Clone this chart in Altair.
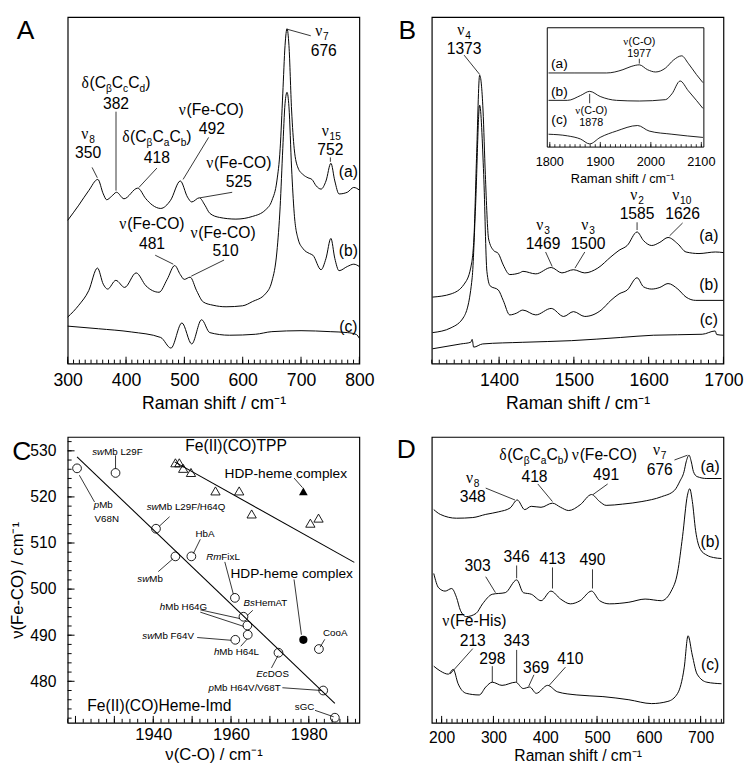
import altair as alt
import pandas as pd

FONT = "Liberation Sans"
SERIF = "Liberation Serif"

# ---------------- Panel A (300-800 cm-1) ----------------
A_a_x = [300, 319, 336, 351.6, 361, 366.8, 375, 383.7, 396.5, 420, 434, 445.3, 459.4, 476.3, 493, 505.4, 512.6, 525.6, 535.2, 543.6, 560.4, 588.4, 616.5, 638.9, 650.2, 658.6, 664.2, 668.7, 672.6, 676, 679.3, 683.8, 688.3, 695, 703.5, 711.9, 718.6, 725.9, 734.3, 742.8, 751.2, 757.9, 765.2, 779.3, 790.4, 800]
A_a_y = [148, 163.7, 178.7, 190.3, 175.3, 169.3, 172.7, 177, 170.3, 181.3, 170.3, 163.7, 160.3, 168.7, 188.7, 172, 167, 171.3, 163.7, 155.3, 151, 149.3, 152, 158.7, 168.7, 188.7, 222, 278.7, 328.7, 346, 328.7, 262, 222, 202, 195.3, 192, 190.3, 183.7, 180.3, 188.7, 207, 188.7, 175.3, 177, 182, 179.3]
A_b_x = [300, 319, 336, 351, 361, 368.5, 382.5, 397.6, 417.3, 434.2, 456.6, 470.5, 483.5, 493, 499.8, 509.9, 521, 532.3, 549.2, 571.5, 599.7, 616.5, 638.9, 650.2, 658.6, 664.2, 668.7, 672.6, 676, 679.3, 683.8, 688.3, 695, 703.5, 714.6, 720.3, 734.3, 742.8, 751.2, 757.9, 765.2, 779.3, 790.4, 800]
A_b_y = [48, 60.3, 75.3, 98.7, 82, 77, 86, 78.7, 93.7, 80.3, 73.7, 87, 101.3, 92, 87, 89.3, 75.3, 63.7, 60.3, 58.7, 59.7, 64, 72, 85.3, 115.3, 162, 222, 268.7, 280.3, 265.3, 202, 155.3, 128.7, 118.7, 113.7, 112, 97, 108.7, 129.3, 108.7, 96, 100.3, 102.7, 100.3]
A_c_x = [300, 352.7, 408.9, 459.4, 477, 495.8, 512.6, 529.5, 543.6, 577.3, 622, 650, 700, 750, 780, 795, 800]
A_c_y = [38.7, 36, 32.7, 27, 16, 42, 20.3, 45.3, 32, 29.3, 30.3, 33, 34, 33, 32, 30, 26]
A_ticks = [300, 400, 500, 600, 700, 800]

# ---------------- Panel B (1310-1700 cm-1) ----------------
B_a_x = [1311, 1335.8, 1353.2, 1362, 1366.3, 1369.8, 1374, 1378.5, 1381.6, 1386, 1392.5, 1399, 1405.5, 1414.3, 1427.4, 1432, 1449, 1469.7, 1484, 1499.4, 1514.6, 1532, 1549.5, 1560.4, 1571.3, 1584.5, 1593.2, 1604.1, 1615, 1625.9, 1639, 1650, 1667.3, 1689.2, 1700]
B_a_y = [68.7, 72, 82, 98.7, 128.7, 212, 298, 262, 195.3, 128.7, 117, 113.7, 102, 92, 93.7, 95.3, 92.7, 99.3, 93.7, 97, 93.7, 98.7, 110.3, 117, 122, 136, 127, 122, 125.3, 130.3, 123.7, 115.3, 113.7, 115.3, 114.7]
B_b_x = [1311, 1335.8, 1353.2, 1364, 1368.5, 1374, 1379.4, 1383.7, 1388, 1399, 1405.5, 1414.3, 1423, 1431.7, 1449, 1469.7, 1486.3, 1499.4, 1514.6, 1536.5, 1549.5, 1560.4, 1571.3, 1584.5, 1593.2, 1604.1, 1615, 1625.9, 1639, 1650, 1663, 1700]
B_b_y = [32, 37, 48.7, 88.7, 162, 267, 195.3, 95.3, 80.3, 76, 65.3, 50.3, 52, 55.3, 50.3, 57, 48.7, 53.7, 48.7, 55.3, 65.3, 72, 76, 88.7, 79.3, 77, 78.7, 82.7, 77, 68.7, 65.3, 65.3]
B_c_x = [1311, 1348.8, 1362, 1364, 1366, 1378, 1431.7, 1497, 1562.6, 1606.2, 1671.6, 1689, 1691, 1700]
B_c_y = [15.3, 20.3, 22, 25, 17, 20.3, 22, 23.7, 27, 29.3, 30.3, 33.7, 30, 29.3]
B_ticks = [1400, 1500, 1600, 1700]

# inset of panel B (1795-2105 cm-1)
I_a_x = [1797.5, 1848, 1912.6, 1944.8, 1961, 1977.2, 1993.3, 2009.5, 2028.9, 2045, 2061.1, 2074, 2090.2, 2103.1]
I_a_y = [300.3, 300.3, 300.3, 303.7, 307, 308.7, 303.7, 301.3, 305.3, 313.7, 318, 310.3, 298.7, 290.3]
I_b_x = [1797.5, 1835.1, 1860.9, 1878.9, 1899.7, 1932, 1977.2, 2028.9, 2041.7, 2058, 2074, 2090.2, 2103.1]
I_b_y = [272, 272, 277, 281.3, 276, 272, 271.3, 272.7, 278.7, 292, 282, 272, 263.7]
I_c_x = [1797.5, 1835.1, 1860.9, 1878.9, 1899.7, 1932, 1973.9, 1996.6, 2041.7, 2103.1]
I_c_y = [237, 235.3, 232, 227, 233.7, 240.3, 246, 240.3, 237, 233.7]
I_ticks = [1800, 1900, 2000, 2100]

# ---------------- Panel C (correlation plot) ----------------
C_circ_name = ["pMb V68N", "swMb L29F", "swMb L29F/H64Q", "swMb", "HbA", "RmFixL", "BsHemAT", "hMb H64G", "hMb H64L", "swMb F64V", "EcDOS", "CooA", "pMb H64V/V68T", "sGC"]
C_circ_x = [1920.4, 1930.3, 1940.7, 1945.7, 1949.8, 1961.0, 1963.2, 1964.2, 1964.3, 1961.1, 1972.2, 1982.6, 1983.7, 1986.7]
C_circ_y = [526.2, 525.2, 513.1, 507.1, 507.1, 498.1, 494.0, 492.1, 490.1, 489.0, 486.2, 487.0, 478.0, 472.1]
C_tri_x = [1945.7, 1946.7, 1947.7, 1949.7, 1956.0, 1962.1, 1965.3, 1980.4, 1982.5]
C_tri_y = [527.4, 527.4, 526.2, 525.3, 521.3, 521.3, 516.3, 514.3, 515.4]
C_hdp_x = [1978.6, 1978.6]
C_hdp_y = [521.2, 489.0]
C_fit_imd_x = [1920.4, 1986.7]
C_fit_imd_y = [528.7, 475.2]
C_fit_tpp_x = [1945.5, 1991.7]
C_fit_tpp_y = [527.6, 505.8]
C_xticks = [1940, 1960, 1980]
C_yticks = [480, 490, 500, 510, 520, 530]

# ---------------- Panel D (180-745 cm-1) ----------------
D_a_x = [184.8, 197.4, 228.7, 260.1, 285.2, 310.3, 332.2, 346, 360.4, 373, 391.9, 413.9, 429.6, 445.3, 467.4, 489.4, 505, 517.6, 549, 586.6, 624.3, 649.4, 660, 668, 672, 677.6, 682, 686, 693.2, 712, 740.3]
D_a_y = [222.3, 217.3, 213.3, 214, 217.3, 220, 224, 232.3, 222.3, 225.7, 224.7, 229, 224.7, 221.3, 227.3, 238, 230.7, 226.7, 228, 230.7, 235.7, 242.3, 252, 262, 272, 279, 272, 262, 256.7, 254.7, 254.7]
D_b_x = [184.8, 194.2, 206.8, 219.3, 228.7, 236.2, 247.5, 266.4, 279, 297.8, 322.9, 345, 357.6, 373.2, 392, 410.9, 429.7, 448.5, 467.3, 489.4, 505, 523.8, 561.5, 592.8, 624.3, 643.1, 655.6, 665, 674.5, 678.9, 684, 690.2, 699.6, 712.2, 724.7, 740.3]
D_b_y = [155.7, 140.7, 137.3, 140, 130.7, 117.3, 110.7, 114, 124, 134, 135.7, 149, 135.7, 134, 127.3, 137.3, 129, 124, 127.3, 137.3, 127.3, 124, 125.7, 129, 127.3, 137.3, 157.3, 194, 237.3, 244, 230.7, 200.7, 180.7, 174.7, 172.3, 171.3]
D_c_x = [184.8, 197.4, 213, 222.4, 231.8, 247.5, 272.6, 285.2, 297.8, 316.6, 343, 357.5, 370, 382.7, 404.6, 423.5, 461.1, 511.3, 561.5, 605.4, 636.8, 655.6, 668.2, 675.7, 683.8, 693.2, 712, 740.3]
D_c_y = [59, 54, 50.7, 55.7, 40.7, 30.7, 29, 37.3, 42.3, 39, 42.3, 35.7, 37.3, 30.7, 39, 32.3, 29, 27.3, 24, 20, 22.3, 30.7, 57.3, 90.7, 70.7, 50.7, 42.3, 40.7]
D_ticks = [200, 300, 400, 500, 600, 700]

# ---------------- helpers ----------------
W = {'0': .556, '1': .556, '2': .556, '3': .556, '4': .556, '5': .556, '6': .556, '7': .556, '8': .556, '9': .556,
     '(': .333, ')': .333, '-': .333, ' ': .278, '/': .278, 'A': .667, 'B': .667, 'C': .722, 'D': .722, 'E': .667,
     'F': .611, 'G': .778, 'H': .722, 'I': .278, 'L': .556, 'M': .833, 'N': .722, 'O': .778, 'P': .667, 'Q': .778,
     'R': .722, 'S': .667, 'T': .611, 'V': .667, 'a': .556, 'b': .556, 'c': .5, 'd': .556, 'e': .556, 'f': .278,
     'h': .556, 'i': .222, 'l': .222, 'm': .833, 'n': .556, 'o': .556, 'p': .556, 's': .5, 't': .278, 'w': .722,
     'x': .5, 'ν': .5, 'δ': .5, 'β': .575}


def tw(s, fs):
    return sum(W.get(c, 0.556) for c in s) * fs


def mk_panel(xd, yd, w, h, xa, ya=None, xr=None):
    sc = dict(domain=xd, nice=False, zero=False)
    if xr:
        sc['range'] = xr
    span = (xr[1] - xr[0]) if xr else w
    return {'xs': alt.Scale(**sc), 'ys': alt.Scale(domain=yd, nice=False, zero=False),
            'xa': xa, 'ya': ya, 'w': w, 'h': h,
            'kx': (xd[1] - xd[0]) / span, 'ky': (yd[1] - yd[0]) / h}


def X(p, f='x'):
    return alt.X(f, type='quantitative', scale=p['xs'], axis=p['xa'])


def Y(p, f='y'):
    return alt.Y(f, type='quantitative', scale=p['ys'], axis=p['ya'])


def rich(rows, p, x, y, segs, fs, align='center'):
    if isinstance(segs, str):
        segs = [(segs, 'sans')]
    pieces, total = [], 0.0
    for t, st in segs:
        size = fs * 0.65 if st == 'sub' else fs
        pieces.append((t, st, size, total))
        total += tw(t, size)
    start = {'left': 0.0, 'center': -total / 2, 'right': -total}[align]
    for t, st, size, off in pieces:
        dy = 0.36 * fs + (0.25 * fs if st == 'sub' else 0.0)
        rows.append({'x': x + (start + off) * p['kx'], 'y': y - dy * p['ky'], 't': t, 'fs': size,
                     'st': 'sans' if st == 'sub' else st})


def text_layers(rows, p):
    df = pd.DataFrame(rows)
    out = []
    for st, font, style in [('sans', FONT, 'normal'), ('serif', SERIF, 'normal'), ('ital', FONT, 'italic')]:
        d = df[df.st == st]
        if len(d) == 0:
            continue
        out.append(alt.Chart(d).mark_text(align='left', baseline='alphabetic', font=font, fontStyle=style,
                                          color='black').encode(
            x=X(p), y=Y(p), text='t:N', size=alt.Size('fs:Q', scale=None)))
    return out


def curves(p, series, sw=1.0):
    df = pd.concat([pd.DataFrame({'x': xs, 'y': ys, 's': n}) for xs, ys, n in series])
    return alt.Chart(df).mark_line(color='black', strokeWidth=sw, interpolate='monotone').encode(
        x=X(p), y=Y(p), detail='s:N')


def leaders(p, segs):
    df = pd.DataFrame(segs, columns=['x', 'y', 'x2', 'y2'])
    return alt.Chart(df).mark_rule(color='black', strokeWidth=0.8).encode(
        x=X(p), y=Y(p), x2='x2:Q', y2='y2:Q')


def xticks(p, vals, length):
    df = pd.DataFrame({'x': vals})
    return alt.Chart(df).mark_rule(color='black', strokeWidth=1).encode(
        x=X(p), y=alt.value(p['h']), y2=alt.value(p['h'] - length))


def yticks(p, vals, length):
    df = pd.DataFrame({'y': vals})
    return alt.Chart(df).mark_rule(color='black', strokeWidth=1).encode(
        y=Y(p), x=alt.value(0), x2=alt.value(length))


def letter(t, dx, dy):
    return alt.Chart(pd.DataFrame({'t': [t]})).mark_text(
        font=FONT, fontSize=27, align='center', baseline='middle', color='black').encode(
        x=alt.value(dx), y=alt.value(dy), text='t:N')


def xaxis(vals, title, fs, lp, tp):
    return alt.Axis(values=vals, title=title, ticks=False, tickSize=0, domain=False, grid=False,
                    labelFlush=False, labelOverlap=False, labelFontSize=fs, titleFontSize=fs,
                    labelPadding=lp, titlePadding=tp, format='d', labelFont=FONT, titleFont=FONT,
                    titleFontWeight='normal', labelColor='black', titleColor='black')


NU = ('ν', 'serif')
FS = 16
CBCC = [('δ', 'serif'), ('(C', 'sans'), ('β', 'sub'), ('C', 'sans'), ('c', 'sub'), ('C', 'sans'), ('d', 'sub'), (')', 'sans')]
CBAB = [('δ', 'serif'), ('(C', 'sans'), ('β', 'sub'), ('C', 'sans'), ('a', 'sub'), ('C', 'sans'), ('b', 'sub'), (')', 'sans')]
FECO = [NU, ('(Fe-CO)', 'sans')]

# ================= Panel A =================
PA = mk_panel([300, 800], [0, 358], 298, 354, xaxis(A_ticks, 'Raman shift / cm⁻¹', 18, 8, 6))
ra = []
rich(ra, PA, 335, 238, [NU, ('8', 'sub')], FS)
rich(ra, PA, 335, 218.7, '350', FS)
rich(ra, PA, 382.8, 291, CBCC, FS)
rich(ra, PA, 382.8, 269.3, '382', FS)
rich(ra, PA, 452.9, 234.5, CBAB, FS)
rich(ra, PA, 452.9, 212.7, '418', FS)
rich(ra, PA, 546.1, 263, FECO, FS)
rich(ra, PA, 547.1, 242.7, '492', FS)
rich(ra, PA, 593.3, 208, FECO, FS)
rich(ra, PA, 593.3, 188.7, '525', FS)
rich(ra, PA, 736, 344, [NU, ('7', 'sub')], FS)
rich(ra, PA, 739, 323.7, '676', FS)
rich(ra, PA, 752, 241, [NU, ('15', 'sub')], FS)
rich(ra, PA, 750.3, 221, '752', FS)
rich(ra, PA, 444.5, 144.5, FECO, FS)
rich(ra, PA, 444.5, 124.7, '481', FS)
rich(ra, PA, 566.3, 136, FECO, FS)
rich(ra, PA, 570.7, 117, '510', FS)
rich(ra, PA, 781.1, 198.7, '(a)', FS)
rich(ra, PA, 781.1, 117, '(b)', FS)
rich(ra, PA, 781.1, 38.7, '(c)', FS)
A_lead = [(341.8, 202.7, 350.8, 192), (382.8, 260.3, 382.8, 178.7), (452.9, 202, 422.1, 182),
          (541.6, 233.7, 497.8, 190.3), (582, 177, 526.9, 171.3), (716.7, 338.7, 677.4, 345.3),
          (750.3, 213, 750.3, 208.5), (450, 112, 481, 102.7), (568, 107, 511.8, 90.3)]
panelA = alt.layer(
    curves(PA, [(A_a_x, A_a_y, 'a'), (A_b_x, A_b_y, 'b'), (A_c_x, A_c_y, 'c')]),
    xticks(PA, list(range(300, 801, 10)), 4), xticks(PA, A_ticks, 7),
    leaders(PA, A_lead), *text_layers(ra, PA), letter('A', -43, 14)
).properties(width=298, height=354)

# ================= Panel B =================
PB = mk_panel([1310, 1700], [0, 358], 298, 354, xaxis(B_ticks, 'Raman shift / cm⁻¹', 18, 8, 6))
rb = []
rich(rb, PB, 1353.2, 345.5, [NU, ('4', 'sub')], FS)
rich(rb, PB, 1353.2, 326, '1373', FS)
rich(rb, PB, 1458.8, 144, [NU, ('3', 'sub')], FS)
rich(rb, PB, 1458.8, 124.7, '1469', FS)
rich(rb, PB, 1519, 144, [NU, ('3', 'sub')], FS)
rich(rb, PB, 1519, 124.7, '1500', FS)
rich(rb, PB, 1584.5, 174.5, [NU, ('2', 'sub')], FS)
rich(rb, PB, 1584.5, 155, '1585', FS)
rich(rb, PB, 1644.4, 174.5, [NU, ('10', 'sub')], FS)
rich(rb, PB, 1645.4, 155, '1626', FS)
rich(rb, PB, 1680.4, 132, '(a)', FS)
rich(rb, PB, 1680.4, 82, '(b)', FS)
rich(rb, PB, 1680.4, 45.3, '(c)', FS)
B_lead = [(1353.2, 318.7, 1374.1, 298.7), (1462.2, 115.3, 1471, 100.3), (1514.6, 115.3, 1501.5, 98.7),
          (1584.5, 146, 1584.5, 138), (1645.4, 145.3, 1628, 132)]
B_main = alt.layer(
    curves(PB, [(B_a_x, B_a_y, 'a'), (B_b_x, B_b_y, 'b'), (B_c_x, B_c_y, 'c')]),
    xticks(PB, list(range(1310, 1701, 10)), 4), xticks(PB, B_ticks, 7),
    leaders(PB, B_lead), *text_layers(rb, PB), letter('B', -25, 14)
)

PI = mk_panel([1795, 2105], [0, 358], 298, 354, None, xr=[118, 278])
ri = []
rich(ri, PI, 1818.9, 310.3, '(a)', 14)
rich(ri, PI, 1818.9, 282, '(b)', 14)
rich(ri, PI, 1818.9, 252.7, '(c)', 14)
rich(ri, PI, 1977.2, 333, [NU, ('(C-O)', 'sans')], 11)
rich(ri, PI, 1977.2, 321, '1977', 11)
rich(ri, PI, 1882.2, 262, [NU, ('(C-O)', 'sans')], 11)
rich(ri, PI, 1882.2, 250, '1878', 11)
for v in I_ticks:
    rich(ri, PI, v, 208.7, str(v), 13)
rich(ri, PI, 1950, 191, 'Raman shift / cm⁻¹', 13)
I_lead = [(1977.2, 315, 1977.2, 310), (1878.9, 278.7, 1878.9, 269)]
inset_frame = pd.DataFrame({'x': [1795], 'x2': [2105], 'y': [223.7], 'y2': [347]})
I_minor = pd.DataFrame({'x': list(range(1800, 2101, 10)), 'y': 223.7, 'y2': 226.7})
I_major = pd.DataFrame({'x': I_ticks, 'y': 223.7, 'y2': 229.0})
B_inset = alt.layer(
    alt.Chart(inset_frame).mark_rect(fillOpacity=0, stroke='black', strokeWidth=1).encode(
        x=X(PI), x2='x2:Q', y=Y(PI), y2='y2:Q'),
    curves(PI, [(I_a_x, I_a_y, 'a'), (I_b_x, I_b_y, 'b'), (I_c_x, I_c_y, 'c')], sw=0.9),
    alt.Chart(I_minor).mark_rule(color='black', strokeWidth=0.8).encode(x=X(PI), y=Y(PI), y2='y2:Q'),
    alt.Chart(I_major).mark_rule(color='black', strokeWidth=0.8).encode(x=X(PI), y=Y(PI), y2='y2:Q'),
    leaders(PI, I_lead), *text_layers(ri, PI)
)
panelB = alt.layer(B_main, B_inset).resolve_scale(x='independent').properties(width=298, height=354)

# ================= Panel C =================
cax = xaxis(C_xticks, 'ν(C-O) / cm⁻¹', 17, 4, 5)
cay = alt.Axis(values=C_yticks, title='ν(Fe-CO) / cm⁻¹', ticks=False, tickSize=0, domain=False, grid=False,
               labelFlush=False, labelOverlap=False, labelFontSize=16, titleFontSize=17, labelPadding=12,
               titlePadding=3, format='d', labelFont=FONT, titleFont=FONT, titleFontWeight='normal',
               labelColor='black', titleColor='black')
PC = mk_panel([1918, 1993], [471, 533], 298, 292, cax, cay)
rc = []
rich(rc, PC, 1961.3, 531.1, 'Fe(II)(CO)TPP', 16)
rich(rc, PC, 1974.1, 525.2, 'HDP-heme complex', 14)
rich(rc, PC, 1975.6, 503.5, 'HDP-heme complex', 14)
rich(rc, PC, 1941.6, 474.7, 'Fe(II)(CO)Heme-Imd', 16)
SL = 10
rich(rc, PC, 1924.3, 529.9, [('sw', 'ital'), ('Mb L29F', 'sans')], SL, 'left')
rich(rc, PC, 1924.7, 518.3, [('p', 'ital'), ('Mb', 'sans')], SL, 'left')
rich(rc, PC, 1924.9, 515.4, 'V68N', SL, 'left')
rich(rc, PC, 1938.3, 518.0, [('sw', 'ital'), ('Mb L29F/H64Q', 'sans')], SL, 'left')
rich(rc, PC, 1953.3, 512.1, 'HbA', SL)
rich(rc, PC, 1935.9, 502.2, [('sw', 'ital'), ('Mb', 'sans')], SL, 'left')
rich(rc, PC, 1953.6, 507.1, [('Rm', 'ital'), ('FixL', 'sans')], SL, 'left')
rich(rc, PC, 1963.2, 497.2, [('Bs', 'ital'), ('HemAT', 'sans')], SL, 'left')
rich(rc, PC, 1941.7, 496.2, [('h', 'ital'), ('Mb H64G', 'sans')], SL, 'left')
rich(rc, PC, 1937.2, 490.0, [('sw', 'ital'), ('Mb F64V', 'sans')], SL, 'left')
rich(rc, PC, 1955.6, 486.4, [('h', 'ital'), ('Mb H64L', 'sans')], SL, 'left')
rich(rc, PC, 1966.5, 481.7, [('Ec', 'ital'), ('DOS', 'sans')], SL, 'left')
rich(rc, PC, 1986.8, 490.5, 'CooA', SL)
rich(rc, PC, 1954.2, 478.7, [('p', 'ital'), ('Mb H64V/V68T', 'sans')], SL, 'left')
rich(rc, PC, 1978.9, 474.5, 'sGC', SL)
C_lead = [(1930.3, 529.0, 1930.3, 526.1), (1921.0, 524.7, 1924.9, 518.9), (1941.5, 513.6, 1944.2, 515.7),
          (1952.1, 510.8, 1950.3, 507.7), (1941.3, 503.8, 1945.1, 506.6), (1958.4, 505.9, 1960.6, 498.9),
          (1965.6, 495.4, 1964.2, 494.3), (1952.1, 495.5, 1962.3, 493.6), (1952.1, 495.0, 1963.3, 491.9),
          (1951.3, 489.5, 1960.0, 488.9), (1962.5, 487.6, 1964.2, 489.2), (1970.4, 482.9, 1972.1, 485.6),
          (1984.1, 489.1, 1982.9, 487.4), (1973.2, 478.6, 1983.3, 478.0), (1981.6, 473.7, 1986.4, 472.3),
          (1976.2, 524.1, 1978.4, 522.0), (1976.2, 502.1, 1978.1, 490.1)]
fits = pd.DataFrame({'x': [C_fit_imd_x[0], C_fit_tpp_x[0]], 'x2': [C_fit_imd_x[1], C_fit_tpp_x[1]],
                     'y': [C_fit_imd_y[0], C_fit_tpp_y[0]], 'y2': [C_fit_imd_y[1], C_fit_tpp_y[1]]})
circ = pd.DataFrame({'x': C_circ_x, 'y': C_circ_y, 'n': C_circ_name})
tri = pd.DataFrame({'x': C_tri_x, 'y': C_tri_y})
hdp = pd.DataFrame({'x': C_hdp_x, 'y': C_hdp_y, 'k': ['tpp', 'imd']})
panelC = alt.layer(
    alt.Chart(fits).mark_rule(color='black', strokeWidth=1.1).encode(x=X(PC), y=Y(PC), x2='x2:Q', y2='y2:Q'),
    xticks(PC, list(range(1918, 1993, 2)), 4), xticks(PC, list(range(1920, 1991, 10)), 7),
    yticks(PC, list(range(472, 533, 2)), 4), yticks(PC, list(range(480, 531, 10)), 7),
    leaders(PC, C_lead),
    alt.Chart(circ).mark_point(shape='circle', filled=False, color='black', size=80, strokeWidth=0.9,
                               opacity=1).encode(x=X(PC), y=Y(PC)),
    alt.Chart(tri).mark_point(shape='triangle-up', filled=False, color='black', size=90, strokeWidth=0.9,
                              opacity=1).encode(x=X(PC), y=Y(PC)),
    alt.Chart(hdp[hdp.k == 'tpp']).mark_point(shape='triangle-up', filled=True, color='black', size=80,
                                              opacity=1).encode(x=X(PC), y=Y(PC)),
    alt.Chart(hdp[hdp.k == 'imd']).mark_point(shape='circle', filled=True, color='black', size=70,
                                              opacity=1).encode(x=X(PC), y=Y(PC)),
    *text_layers(rc, PC), letter('C', -47, 16)
).properties(width=298, height=292)

# ================= Panel D =================
PD = mk_panel([181, 744], [0, 298], 298, 292, xaxis(D_ticks, 'Raman shift / cm⁻¹', 16, 7, 3))
rd = []
rich(rd, PD, 260.1, 256, [NU, ('8', 'sub')], FS)
rich(rd, PD, 260.1, 235.7, '348', FS)
rich(rd, PD, 378.3, 280, CBAB, FS)
rich(rd, PD, 379.3, 257.3, '418', FS)
rich(rd, PD, 514.3, 280, FECO, FS)
rich(rd, PD, 517.5, 259, '491', FS)
rich(rd, PD, 621.1, 285.5, [NU, ('7', 'sub')], FS)
rich(rd, PD, 621.1, 264, '676', FS)
rich(rd, PD, 718.3, 267.3, '(a)', FS)
rich(rd, PD, 718.3, 189, '(b)', FS)
rich(rd, PD, 718.3, 60.7, '(c)', FS)
rich(rd, PD, 269.5, 164, '303', FS)
rich(rd, PD, 344.8, 173.3, '346', FS)
rich(rd, PD, 414, 171.3, '413', FS)
rich(rd, PD, 491.2, 170, '490', FS)
rich(rd, PD, 263.3, 106.5, [NU, ('(Fe-His)', 'sans')], FS)
rich(rd, PD, 260.1, 86.3, '213', FS)
rich(rd, PD, 297.8, 67.3, '298', FS)
rich(rd, PD, 344.8, 85.5, '343', FS)
rich(rd, PD, 382.5, 58, '369', FS)
rich(rd, PD, 448.4, 67.3, '410', FS)
D_lead = [(285.1, 244.7, 341.6, 232.3), (385.7, 249, 413.9, 230.7), (520.5, 249, 492.3, 238),
          (649.4, 274, 674.5, 279), (285.1, 152.3, 303.9, 135.7), (344.8, 164, 344.8, 150.7),
          (414, 162, 414, 140), (491.2, 160, 491.2, 140), (260.1, 77.3, 216.2, 50.7),
          (297.8, 59, 297.8, 42.3), (344.8, 76, 344.8, 42.3), (378.2, 50, 368, 38), (439, 58, 407.6, 39)]
panelD = alt.layer(
    curves(PD, [(D_a_x, D_a_y, 'a'), (D_b_x, D_b_y, 'b'), (D_c_x, D_c_y, 'c')]),
    xticks(PD, list(range(190, 741, 10)), 4), xticks(PD, D_ticks, 7),
    leaders(PD, D_lead), *text_layers(rd, PD), letter('D', -26, 13)
).properties(width=298, height=292)

chart = alt.concat(panelA, panelB, panelC, panelD, columns=2,
                   spacing={"row": 75, "column": 74}).properties(
    bounds='flush', padding=0).configure_view(stroke='black', strokeWidth=1.2)

chart.save("out.html", embed_options={"renderer": "svg", "actions": False})
